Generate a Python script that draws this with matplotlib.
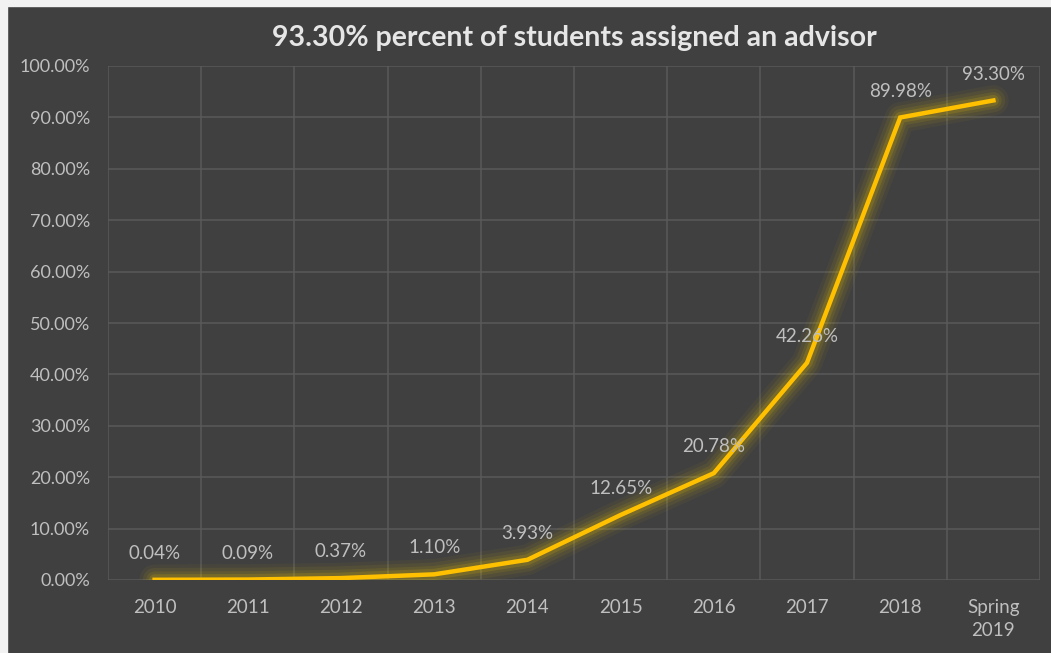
import matplotlib
matplotlib.use("Agg")
import matplotlib.pyplot as plt
from matplotlib.patches import Rectangle

categories = ["2010", "2011", "2012", "2013", "2014", "2015", "2016", "2017", "2018", "Spring\n2019"]
values = [0.04, 0.09, 0.37, 1.10, 3.93, 12.65, 20.78, 42.26, 89.98, 93.30]
value_labels = ["0.04%", "0.09%", "0.37%", "1.10%", "3.93%", "12.65%", "20.78%", "42.26%", "89.98%", "93.30%"]
yticks = list(range(0, 101, 10))
title = "93.30% percent of students assigned an advisor"

FONT = ["Lato", "DejaVu Sans"]
BG = "#404040"
GRID = "#5a5a5a"
TXT = "#bfbfbf"

fig = plt.figure(figsize=(10.51, 6.53), dpi=100)
fig.patch.set_facecolor(BG)
fig.patches.append(Rectangle((0, 0), 7 / 1051, 1, transform=fig.transFigure, color="#f2f2f2", zorder=0))
fig.patches.append(Rectangle((0, 1 - 6 / 653), 1, 6 / 653, transform=fig.transFigure, color="#f2f2f2", zorder=0))

ax = fig.add_axes([108 / 1051, 1 - 580 / 653, (1040 - 108) / 1051, (580 - 66) / 653])
ax.set_facecolor(BG)
x = list(range(len(categories)))
ax.set_xlim(-0.5, len(categories) - 0.5)
ax.set_ylim(0, 100)

for b in [i - 0.5 for i in range(len(categories) + 1)]:
    ax.axvline(b, color=GRID, lw=1.1, zorder=1)
for t in yticks:
    ax.axhline(t, color=GRID, lw=1.1, zorder=1)
for s in ax.spines.values():
    s.set_visible(False)

for lw, a in [(22, 0.05), (17, 0.07), (12, 0.10), (8, 0.16)]:
    ax.plot(x, values, color="#e6c200", lw=lw, alpha=a, solid_joinstyle="round",
            solid_capstyle="round", zorder=2)
ax.plot(x, values, color="#ffc000", lw=3.2, solid_joinstyle="miter", zorder=3)

for xi, v, lab in zip(x, values, value_labels):
    ax.annotate(lab, (xi, v), xytext=(0, 19), textcoords="offset points",
                ha="center", va="center", color=TXT, fontsize=13.5, family=FONT, zorder=4)

ax.set_xticks(x)
ax.set_xticklabels(categories, family=FONT, fontsize=13.5, color=TXT, linespacing=1.4)
ax.set_yticks(yticks)
ax.set_yticklabels([f"{t:.2f}%" for t in yticks], family=FONT, fontsize=13, color=TXT)
ax.tick_params(axis="both", length=0)
ax.tick_params(axis="x", pad=14)
ax.tick_params(axis="y", pad=13)

fig.text(574 / 1051, 1 - 38 / 653, title, ha="center", va="center", fontsize=20.5,
         fontweight="bold", color="#e6e6e6", family=FONT)

fig.savefig("out.png", dpi=100, facecolor=fig.get_facecolor())
